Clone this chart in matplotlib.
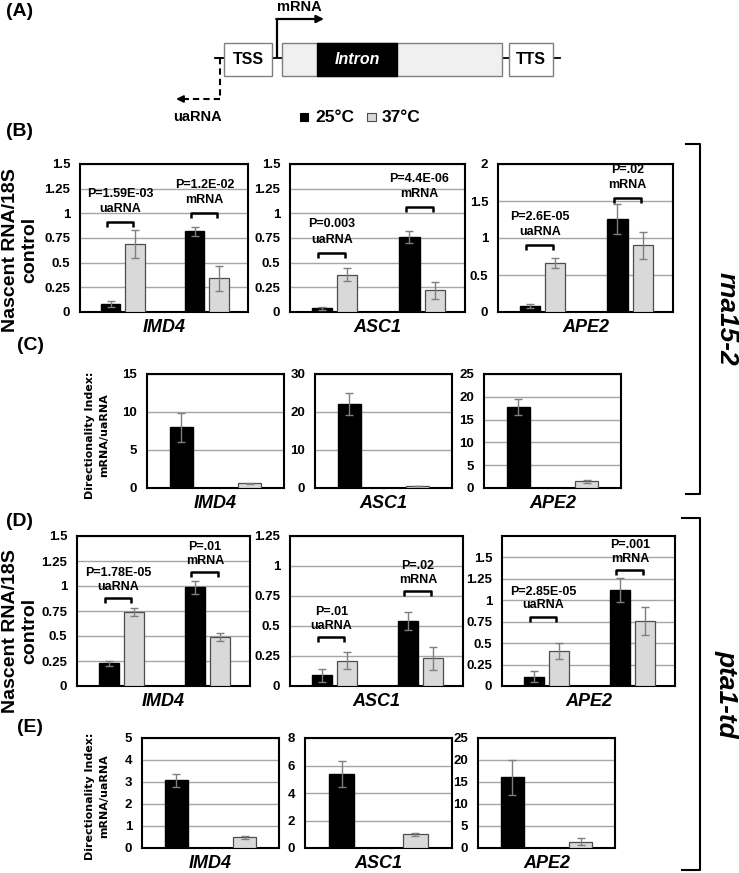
import numpy as np
import matplotlib
matplotlib.use("Agg")
import matplotlib.pyplot as plt
from matplotlib.patches import Rectangle
from matplotlib import transforms

# ----------------------------
# Data
# ----------------------------
genes = ["IMD4", "ASC1", "APE2"]
groups = ["uaRNA", "mRNA"]

# (B) rna15-2 nascent RNA / 18S, per gene: [uaRNA, mRNA]
b_25 = [[0.08, 0.82], [0.04, 0.76], [0.08, 1.26]]
b_25_err = [[0.03, 0.045], [0.015, 0.065], [0.03, 0.20]]
b_37 = [[0.69, 0.34], [0.38, 0.22], [0.66, 0.90]]
b_37_err = [[0.14, 0.13], [0.065, 0.085], [0.065, 0.18]]
b_pvals = [["P=1.59E-03", "P=1.2E-02"], ["P=0.003", "P=4.4E-06"], ["P=2.6E-05", "P=.02"]]
b_brackets = [[0.91, 1.0], [0.60, 1.06], [0.90, 1.54]]
b_ymax = [1.5, 1.5, 2.0]
b_step = [0.25, 0.25, 0.5]

# (C) rna15-2 directionality index
c_25 = [8.0, 22.0, 17.7]
c_25_err = [1.9, 2.9, 1.8]
c_37 = [0.6, 0.5, 1.45]
c_37_err = [0.12, 0.1, 0.3]
c_ymax = [15, 30, 25]
c_step = [5, 10, 5]

# (D) pta1-td nascent RNA / 18S
d_25 = [[0.23, 0.99], [0.09, 0.54], [0.11, 1.12]]
d_25_err = [[0.025, 0.065], [0.055, 0.075], [0.065, 0.145]]
d_37 = [[0.74, 0.49], [0.21, 0.23], [0.41, 0.76]]
d_37_err = [[0.04, 0.04], [0.07, 0.095], [0.095, 0.16]]
d_pvals = [["P=1.78E-05", "P=.01"], ["P=.01", "P=.02"], ["P=2.85E-05", "P=.001"]]
d_brackets = [[0.88, 1.14], [0.41, 0.79], [0.81, 1.35]]
d_ymax = [1.5, 1.25, 1.75]
d_ticktop = [1.5, 1.25, 1.5]
d_step = [0.25, 0.25, 0.25]

# (E) pta1-td directionality index
e_25 = [3.08, 5.4, 16.1]
e_25_err = [0.3, 0.95, 4.0]
e_37 = [0.48, 1.0, 1.47]
e_37_err = [0.05, 0.12, 0.73]
e_ymax = [5, 8, 25]
e_step = [1, 2, 5]

# ----------------------------
# Style
# ----------------------------
W, H = 739, 873
FONT = ["Liberation Sans", "DejaVu Sans"]
BLACK = "#000000"
GRAY = "#d9d9d9"
GRAY_EDGE = "#4d4d4d"
ERR = "#7f7f7f"
GRID = "#a6a6a6"

plt.rcParams["font.family"] = FONT
plt.rcParams["font.weight"] = "bold"

fig = plt.figure(figsize=(W / 100, H / 100), dpi=100)

# overlay axes in pixel coordinates for the diagram and labels
ov = fig.add_axes([0, 0, 1, 1], zorder=0)
ov.set_xlim(0, W)
ov.set_ylim(H, 0)
ov.axis("off")


def px_axes(left, right, top, bottom):
    ax = fig.add_axes([left / W, 1 - bottom / H, (right - left) / W, (bottom - top) / H], zorder=2)
    ax.set_facecolor("white")
    return ax


def style_axes(ax, ymax, ticktop, step):
    ticks = np.arange(0, ticktop + step / 2, step)
    ax.set_ylim(0, ymax)
    ax.set_yticks(ticks)
    ax.set_yticklabels([f"{t:g}" for t in ticks])
    ax.set_xticks([])
    ax.set_xlim(0, 2)
    ax.grid(axis="y", color=GRID, lw=1)
    ax.set_axisbelow(True)
    ax.tick_params(axis="y", length=0, pad=7, labelsize=9.5)
    for s in ax.spines.values():
        s.set_linewidth(1.5)
        s.set_color("black")


def gene_label(ax, gene):
    tr = transforms.offset_copy(ax.transAxes, fig=fig, x=0, y=-15, units="dots")
    ax.text(0.5, 0, gene, transform=tr, ha="center", va="center",
            fontsize=13, style="italic", fontweight="bold")


def pair_panel(box, gene, v25, e25, v37, e37, ymax, ticktop, step, pvals, brackets, offs):
    ax = px_axes(*box)
    style_axes(ax, ymax, ticktop, step)
    centers = np.array([0.51, 1.51])
    ax.bar(centers - 0.145, v25, 0.23, color=BLACK, edgecolor=BLACK, zorder=3)
    ax.bar(centers + 0.145, v37, 0.23, color=GRAY, edgecolor=GRAY_EDGE, lw=0.9, zorder=3)
    ax.errorbar(centers - 0.145, v25, yerr=e25, fmt="none", ecolor=ERR, elinewidth=1,
                capsize=3, capthick=1, zorder=4)
    ax.errorbar(centers + 0.145, v37, yerr=e37, fmt="none", ecolor=ERR, elinewidth=1,
                capsize=3, capthick=1, zorder=4)
    drop = ymax * 5 / (box[3] - box[2])
    for c, yb, p, g in zip(centers, brackets, pvals, groups):
        ax.plot([c - 0.19, c - 0.19, c + 0.12, c + 0.12], [yb - drop, yb, yb, yb - drop],
                color="black", lw=1.8, zorder=5, solid_capstyle="butt")
        ax.annotate(g, xy=(c - 0.03, yb), xytext=(0, offs[0]), textcoords="offset points",
                    ha="center", va="center", fontsize=9, zorder=5)
        ax.annotate(p, xy=(c - 0.03, yb), xytext=(0, offs[1]), textcoords="offset points",
                    ha="center", va="center", fontsize=9, zorder=5)
    gene_label(ax, gene)
    return ax


def index_panel(box, gene, v25, e25, v37, e37, ymax, step):
    ax = px_axes(*box)
    style_axes(ax, ymax, ymax, step)
    ax.bar([0.5], [v25], 0.34, color=BLACK, edgecolor=BLACK, zorder=3)
    ax.bar([1.5], [v37], 0.34, color=GRAY, edgecolor=GRAY_EDGE, lw=0.9, zorder=3)
    ax.errorbar([0.5, 1.5], [v25, v37], yerr=[e25, e37], fmt="none", ecolor=ERR,
                elinewidth=1, capsize=3, capthick=1, zorder=4)
    gene_label(ax, gene)
    return ax


# ----------------------------
# Panels B - E
# ----------------------------
b_boxes = [(80, 248, 164, 312), (290, 465, 164, 312), (498, 673, 164, 312)]
c_boxes = [(147, 284, 374, 488), (315, 452, 374, 488), (484, 621, 374, 488)]
d_boxes = [(77, 250, 536, 686), (290, 463, 536, 686), (502, 675, 536, 686)]
e_boxes = [(142, 279, 738, 848), (305, 452, 738, 848), (478, 615, 738, 848)]

for i, g in enumerate(genes):
    pair_panel(b_boxes[i], g, b_25[i], b_25_err[i], b_37[i], b_37_err[i],
               b_ymax[i], b_ymax[i], b_step[i], b_pvals[i], b_brackets[i], (9.5, 20.5))
    index_panel(c_boxes[i], g, c_25[i], c_25_err[i], c_37[i], c_37_err[i], c_ymax[i], c_step[i])
    pair_panel(d_boxes[i], g, d_25[i], d_25_err[i], d_37[i], d_37_err[i],
               d_ymax[i], d_ticktop[i], d_step[i], d_pvals[i], d_brackets[i], (8, 18))
    index_panel(e_boxes[i], g, e_25[i], e_25_err[i], e_37[i], e_37_err[i], e_ymax[i], e_step[i])

# ----------------------------
# Panel A: gene diagram
# ----------------------------
ov.plot([215, 560], [58, 58], color="black", lw=1.3, zorder=1)
ov.add_patch(Rectangle((224, 43), 48, 33, fc="white", ec="#7f7f7f", lw=1, zorder=2))
ov.add_patch(Rectangle((282, 43), 220, 33, fc="#f0f0f0", ec="#7f7f7f", lw=1, zorder=2))
ov.add_patch(Rectangle((317, 43), 80, 33, fc="black", ec="black", lw=1, zorder=3))
ov.add_patch(Rectangle((509, 43), 44, 33, fc="white", ec="#7f7f7f", lw=1, zorder=2))
ov.text(248, 60, "TSS", ha="center", va="center", fontsize=11.5, zorder=4)
ov.text(357, 60, "Intron", ha="center", va="center", fontsize=11.5, color="white",
        style="italic", zorder=4)
ov.text(531, 60, "TTS", ha="center", va="center", fontsize=11.5, zorder=4)

# mRNA arrow
ov.plot([277, 277], [58, 19], color="black", lw=1.6, solid_capstyle="butt")
ov.annotate("", xy=(324, 19), xytext=(276.2, 19),
            arrowprops=dict(arrowstyle="-|>", color="black", lw=1.6, mutation_scale=11,
                            shrinkA=0, shrinkB=0))
ov.text(299, 7, "mRNA", ha="center", va="center", fontsize=10.5)

# uaRNA arrow (dashed)
ov.plot([216, 222], [58, 58], color="black", lw=1.3)
ov.plot([220, 220], [58, 99], color="black", lw=1.5, ls=(0, (3, 2)))
ov.plot([220, 186], [99, 99], color="black", lw=1.5, ls=(0, (3, 2)))
ov.annotate("", xy=(176, 99), xytext=(188, 99),
            arrowprops=dict(arrowstyle="-|>", color="black", lw=1.5, mutation_scale=10,
                            shrinkA=0, shrinkB=0))
ov.text(198, 117, "uaRNA", ha="center", va="center", fontsize=10.5)

# legend
ov.add_patch(Rectangle((300, 113), 8, 8, fc=BLACK, ec=BLACK, lw=0.8))
ov.text(315, 117, "25°C", ha="left", va="center", fontsize=12.5)
ov.add_patch(Rectangle((367, 113), 9, 8, fc=GRAY, ec=GRAY_EDGE, lw=0.8))
ov.text(382, 117, "37°C", ha="left", va="center", fontsize=12.5)

# ----------------------------
# Panel letters, axis titles, strain brackets
# ----------------------------
for txt, x, y in [("(A)", 6, 12), ("(B)", 6, 132), ("(C)", 17, 345), ("(D)", 6, 522), ("(E)", 17, 728)]:
    ov.text(x, y, txt, ha="left", va="center", fontsize=14)

for y in [250, 631]:
    ov.text(20, y, "Nascent RNA/18S\ncontrol", rotation=90, ha="center", va="center",
            fontsize=14, multialignment="center")
for y in [435, 796]:
    ov.text(97, y, "Directionality Index:\nmRNA/uaRNA", rotation=90, ha="center", va="center",
            fontsize=8, family=["DejaVu Sans"], multialignment="center", linespacing=1.5)

ov.plot([686, 700, 700, 686], [144, 144, 494, 494], color="black", lw=1.5)
ov.plot([682, 700, 700, 682], [518, 518, 870, 870], color="black", lw=1.5)
ov.text(727, 319, "rna15-2", rotation=-90, ha="center", va="center", fontsize=19, style="italic")
ov.text(727, 694, "pta1-td", rotation=-90, ha="center", va="center", fontsize=19, style="italic")

fig.savefig("out.png", dpi=100)
